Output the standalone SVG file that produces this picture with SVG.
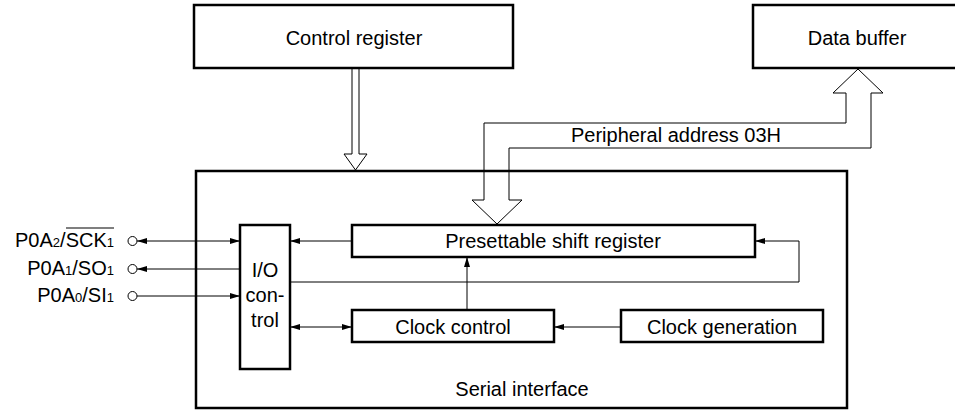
<svg xmlns="http://www.w3.org/2000/svg" width="955" height="411" viewBox="0 0 955 411">
<defs>
<style>
.box{fill:#fff;stroke:#000;stroke-width:2.5}
.outer{fill:none;stroke:#000;stroke-width:2.5}
.t{font-family:"Liberation Sans",Arial,Helvetica,sans-serif;font-size:20px;fill:#000}
.c{text-anchor:middle}
.r{text-anchor:end}
.ln{fill:none;stroke:#000;stroke-width:1}
.bus{fill:none;stroke:#000;stroke-width:1}
.pin{fill:#fff;stroke:#000;stroke-width:1}
</style>
<marker id="ah" viewBox="0 0 10 6" refX="10" refY="3" markerWidth="10" markerHeight="6" orient="auto-start-reverse" markerUnits="userSpaceOnUse">
<path d="M0,0 L10,3 L0,6 z" fill="#000"/>
</marker>
</defs>

<g id="serial-interface">
<rect class="outer" x="196" y="171" width="651" height="237"/>
<text class="t c" x="522" y="396">Serial interface</text>
</g>

<g id="control-register">
<rect class="box" x="194" y="5" width="319" height="63"/>
<text class="t c" x="354" y="45">Control register</text>
</g>

<g id="data-buffer">
<rect class="box" x="753" y="5" width="209" height="63"/>
<text class="t c" x="857" y="45">Data buffer</text>
</g>

<g id="io-control">
<rect class="box" x="240" y="225" width="50" height="144"/>
<text class="t c" x="265" y="277">I/O</text>
<text class="t c" x="265" y="302">con-</text>
<text class="t c" x="265" y="327">trol</text>
</g>

<g id="shift-register">
<rect class="box" x="352" y="225" width="403" height="32"/>
<text class="t c" x="553" y="248">Presettable shift register</text>
</g>

<g id="clock-control">
<rect class="box" x="352" y="310" width="202" height="32"/>
<text class="t c" x="453" y="334">Clock control</text>
</g>

<g id="clock-generation">
<rect class="box" x="621" y="310" width="202" height="32"/>
<text class="t c" x="722" y="334">Clock generation</text>
</g>

<g id="pins">
<text class="t r" x="114" y="247">P0A<tspan font-size="13">2</tspan>/SCK<tspan font-size="13">1</tspan></text>
<line x1="66" y1="228" x2="114" y2="228" stroke="#000" stroke-width="1.2"/>
<text class="t r" x="114" y="275">P0A<tspan font-size="13">1</tspan>/SO<tspan font-size="13">1</tspan></text>
<text class="t r" x="114" y="302">P0A<tspan font-size="13">0</tspan>/SI<tspan font-size="13">1</tspan></text>
<circle class="pin" cx="132.5" cy="241" r="4.5"/>
<circle class="pin" cx="132.5" cy="269" r="4.5"/>
<circle class="pin" cx="132.5" cy="296" r="4.5"/>
</g>

<g id="connectors">
<line class="ln" x1="137" y1="241" x2="240" y2="241" marker-start="url(#ah)" marker-end="url(#ah)"/>
<line class="ln" x1="137" y1="269" x2="240" y2="269" marker-start="url(#ah)"/>
<line class="ln" x1="137" y1="296" x2="240" y2="296" marker-end="url(#ah)"/>
<line class="ln" x1="352" y1="241" x2="290" y2="241" marker-end="url(#ah)"/>
<line class="ln" x1="290" y1="327" x2="352" y2="327" marker-start="url(#ah)" marker-end="url(#ah)"/>
<line class="ln" x1="621" y1="327" x2="554" y2="327" marker-end="url(#ah)"/>
<line class="ln" x1="467" y1="310" x2="467" y2="257" marker-end="url(#ah)"/>
<polyline class="ln" points="290,282 799,282 799,241 755,241" marker-end="url(#ah)"/>
<path class="bus" fill="#fff" d="M352,68 L352,154 L344,154 L355.5,170 L367,154 L359,154 L359,68"/>
<path class="bus" d="M484,200 L484,123 L846,123 L846,93 L833,93 L858,69 L883,93 L871,93 L871,148 L509,148 L509,200 L522,200 L497,224 L472,200 Z"/>
<text class="t c" x="676" y="142">Peripheral address 03H</text>
</g>
</svg>
